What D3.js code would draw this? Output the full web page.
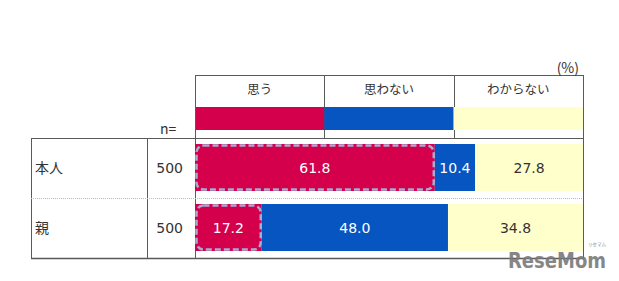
<html>
<head>
<script src="https://d3js.org/d3.v7.min.js"></script>
<style>
  body { margin: 0; background: #fff; }
</style>
</head>
<body>
<svg id="chart" width="619" height="281"></svg>
<script>
// data
var categories = ['思う', '思わない', 'わからない'];
var rows = ['本人', '親'];
var nValues = [500, 500];
var thinkYes = [61.8, 17.2];
var thinkNo = [10.4, 48.0];
var dontKnow = [27.8, 34.8];
var colors = ['#d4004b', '#0755c0', '#ffffcc'];
var textColors = ['#fff', '#fff', '#333'];

var svg = d3.select('#chart');
var jp = '"Noto Sans CJK JP", sans-serif';
var num = '"DejaVu Sans", Verdana, sans-serif';
var lineCol = '#5a5a5a';

var x = d3.scaleLinear().domain([0, 100]).range([195, 583]);
var head = d3.scaleBand().domain(categories).range([195, 583]);
var y = d3.scaleBand().domain(rows).range([138, 258]);

// stacked series
var table = rows.map(function(r, i) {
    return { row: r, '思う': thinkYes[i], '思わない': thinkNo[i], 'わからない': dontKnow[i] };
});
var stack = d3.stack().keys(categories)(table);

// header
svg.append('line').attr('x1', 195).attr('x2', 583).attr('y1', 75.5).attr('y2', 75.5)
    .attr('stroke', lineCol);
svg.selectAll('.hdiv')
    .data(categories.slice(1))
    .enter().append('line')
    .attr('x1', function(d) { return Math.round(head(d)) + 0.5; })
    .attr('x2', function(d) { return Math.round(head(d)) + 0.5; })
    .attr('y1', 75).attr('y2', 138)
    .attr('stroke', lineCol);
svg.append('line').attr('x1', 583.5).attr('x2', 583.5).attr('y1', 75).attr('y2', 258)
    .attr('stroke', lineCol);

svg.selectAll('.legendBar')
    .data(categories)
    .enter().append('rect')
    .attr('x', function(d) { return head(d); })
    .attr('y', 107)
    .attr('width', head.bandwidth())
    .attr('height', 23)
    .attr('fill', function(d, i) { return colors[i]; });

svg.selectAll('.htext')
    .data(categories)
    .enter().append('text')
    .attr('x', function(d) { return head(d) + head.bandwidth() / 2; })
    .attr('y', 94)
    .attr('text-anchor', 'middle')
    .attr('font-family', jp)
    .attr('font-size', 12.5)
    .attr('fill', '#333')
    .text(function(d) { return d; });

svg.append('text').attr('x', 579).attr('y', 73).attr('text-anchor', 'end')
    .attr('font-family', jp).attr('font-size', 14).attr('fill', '#333').text('(%)');
svg.append('text').attr('x', 160).attr('y', 134)
    .attr('font-family', jp).attr('font-size', 14).attr('fill', '#333').text('n=');

// table frame
svg.append('line').attr('x1', 31).attr('x2', 584).attr('y1', 138.5).attr('y2', 138.5)
    .attr('stroke', lineCol);
svg.append('line').attr('x1', 31).attr('x2', 584).attr('y1', 258.5).attr('y2', 258.5)
    .attr('stroke', lineCol).attr('stroke-width', 1.5);
[31.5, 147.5, 195.5].forEach(function(xx) {
    svg.append('line').attr('x1', xx).attr('x2', xx).attr('y2', 258)
        .attr('stroke', lineCol)
        .attr('y1', xx === 195.5 ? 75 : 138);
});
svg.append('line').attr('x1', 31).attr('x2', 583).attr('y1', 198.5).attr('y2', 198.5)
    .attr('stroke', '#bbb').attr('stroke-dasharray', '1,1');

// row labels and n
svg.selectAll('.rlab')
    .data(rows)
    .enter().append('text')
    .attr('x', 35)
    .attr('y', function(d) { return y(d) + y.bandwidth() / 2 + 5; })
    .attr('font-family', jp).attr('font-size', 14).attr('fill', '#333')
    .text(function(d) { return d; });
svg.selectAll('.nlab')
    .data(rows)
    .enter().append('text')
    .attr('x', 183).attr('text-anchor', 'end')
    .attr('y', function(d) { return y(d) + y.bandwidth() / 2 + 5; })
    .attr('font-family', num).attr('font-size', 14).attr('fill', '#333')
    .text(function(d, i) { return nValues[i]; });

// bars
var barTop = 6, barH = 47;
stack.forEach(function(s, k) {
    var g = svg.append('g');
    g.selectAll('rect')
        .data(s)
        .enter().append('rect')
        .attr('x', function(d) { return x(d[0]); })
        .attr('width', function(d) { return x(d[1]) - x(d[0]); })
        .attr('y', function(d) { return y(d.data.row) + barTop; })
        .attr('height', barH)
        .attr('fill', colors[k]);
    g.selectAll('text')
        .data(s)
        .enter().append('text')
        .attr('x', function(d) { return (x(d[0]) + x(d[1])) / 2; })
        .attr('y', function(d) { return y(d.data.row) + barTop + barH / 2 + 5; })
        .attr('text-anchor', 'middle')
        .attr('font-family', num).attr('font-size', 14)
        .attr('fill', textColors[k])
        .text(function(d) { return (d[1] - d[0]).toFixed(1); });
});

// highlight around 思う bars
svg.selectAll('.hl')
    .data(stack[0])
    .enter().append('rect')
    .attr('x', function(d) { return x(d[0]) + 1.5; })
    .attr('width', function(d) { return x(d[1]) - x(d[0]) - 2.5; })
    .attr('y', function(d) { return y(d.data.row) + barTop + 1.5; })
    .attr('height', barH - 3)
    .attr('rx', 7)
    .attr('fill', 'none')
    .attr('stroke', '#a4add8')
    .attr('stroke-width', 2.5)
    .attr('stroke-dasharray', '6,3');

// watermark
svg.append('text').attr('x', 508).attr('y', 268)
    .attr('font-family', '"DejaVu Sans", sans-serif').attr('font-weight', 'bold')
    .attr('font-size', 21).attr('fill', '#7a7a7a').attr('opacity', 0.9)
    .attr('textLength', 98).attr('lengthAdjust', 'spacingAndGlyphs')
    .text('ReseMom');
svg.append('text').attr('x', 588).attr('y', 246)
    .attr('font-family', jp).attr('font-size', 4.5).attr('fill', '#888')
    .text('リセマム');
</script>
</body>
</html>
